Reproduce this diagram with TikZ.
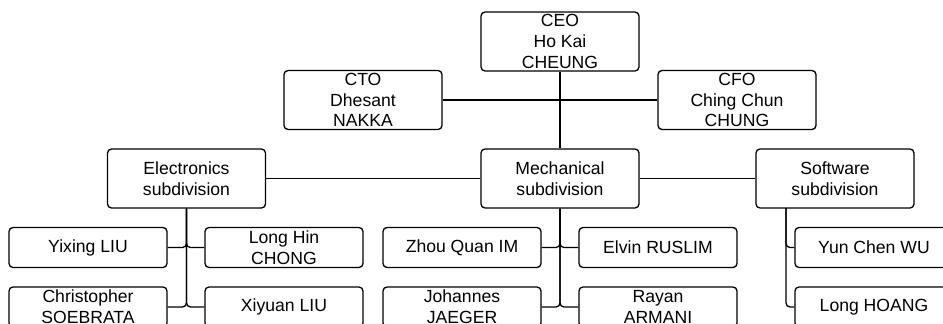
\documentclass[tikz,border=0pt]{standalone}
\usepackage{fontspec}
\setmainfont{Liberation Sans}
\tikzset{
	orgbox/.style={draw, line width=1.3pt, rounded corners=4pt, align=center,
		minimum width=158pt, minimum height=59pt, inner sep=0pt,
		font=\fontsize{17.6}{20.6}\selectfont},
	leafbox/.style={orgbox, minimum height=40pt},
	link/.style={line width=1.3pt, rounded corners=4pt}
}

\begin{document}
\begin{tikzpicture}[x=1pt, y=-1pt]
	\clip (0, 0) rectangle (943, 324);
	% management
	\node[orgbox] (ceo) at (560, 41.5) {CEO\\Ho Kai\\CHEUNG};
	\node[orgbox] (cto) at (363, 100) {CTO\\Dhesant\\NAKKA};
	\node[orgbox] (cfo) at (737, 100) {CFO\\Ching Chun\\CHUNG};
	% subdivisions
	\node[orgbox] (elec) at (186.5, 178.5) {Electronics\\subdivision};
	\node[orgbox] (mech) at (560, 178.5) {Mechanical\\subdivision};
	\node[orgbox] (soft) at (835, 178.5) {Software\\subdivision};
	% members
	\node[leafbox] (yixing) at (88, 247.5) {Yixing LIU};
	\node[leafbox] (longhin) at (284, 247.5) {Long Hin\\CHONG};
	\node[leafbox] (christopher) at (88, 307) {Christopher\\SOEBRATA};
	\node[leafbox] (xiyuan) at (284, 307) {Xiyuan LIU};
	\node[leafbox] (zhou) at (462, 247.5) {Zhou Quan IM};
	\node[leafbox] (elvin) at (658, 247.5) {Elvin RUSLIM};
	\node[leafbox] (johannes) at (462, 307) {Johannes\\JAEGER};
	\node[leafbox] (rayan) at (658, 307) {Rayan\\ARMANI};
	\node[leafbox] (yunchen) at (874, 247.5) {Yun Chen WU};
	\node[leafbox] (longhoang) at (874, 307) {Long HOANG};
	\coordinate (softtrunk) at (786, 208);

	\draw[link] (ceo.south) -- (mech.north);
	\draw[link] (cto.east) -- (cfo.west);
	\draw[link] (elec.east) -- (mech.west);
	\draw[link] (mech.east) -- (soft.west);
	\foreach \kid in {yixing, christopher}
		\draw[link] (elec.south) |- (\kid.east);
	\foreach \kid in {longhin, xiyuan}
		\draw[link] (elec.south) |- (\kid.west);
	\foreach \kid in {zhou, johannes}
		\draw[link] (mech.south) |- (\kid.east);
	\foreach \kid in {elvin, rayan}
		\draw[link] (mech.south) |- (\kid.west);
	\foreach \kid in {yunchen, longhoang}
		\draw[link] (softtrunk) |- (\kid.west);
\end{tikzpicture}
\end{document}
